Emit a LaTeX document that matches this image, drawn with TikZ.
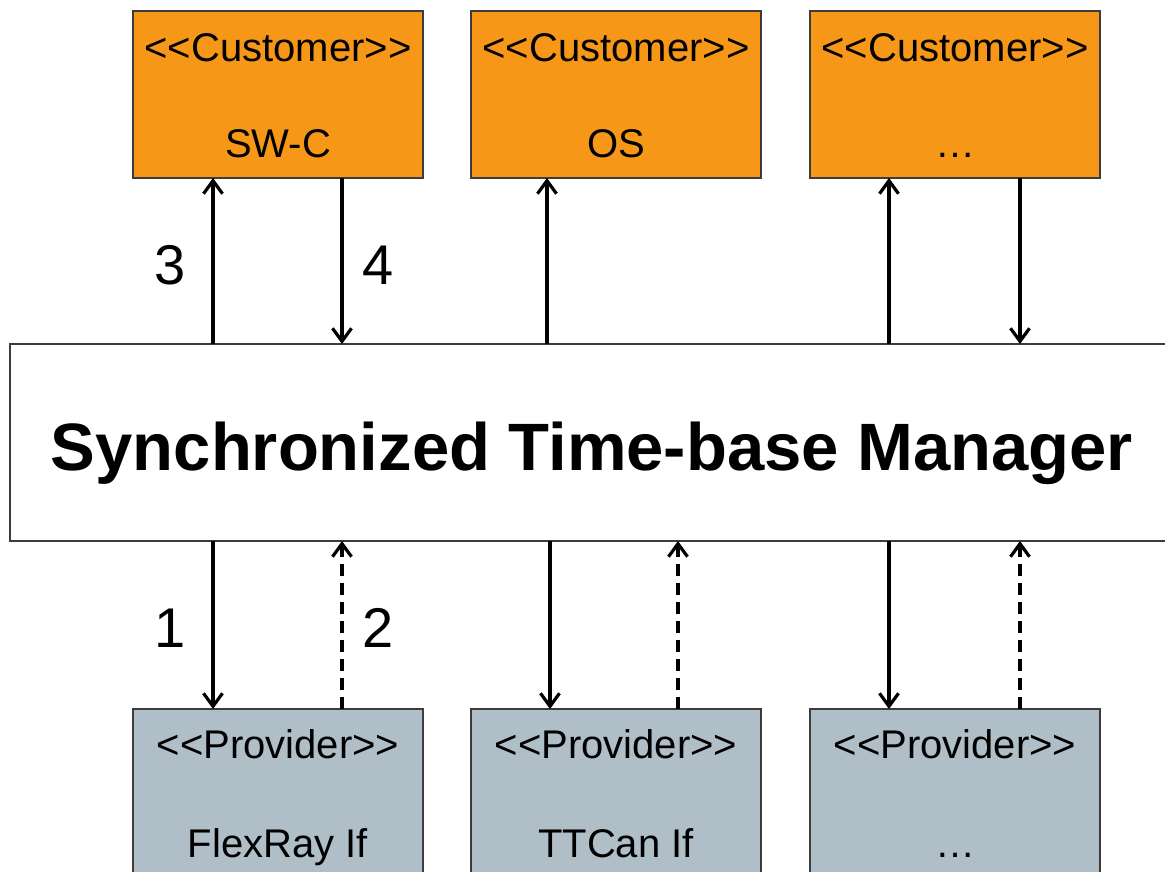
\documentclass[tikz,border=0pt]{standalone}
\usepackage{fontspec}
\setmainfont{Liberation Sans}
\usetikzlibrary{arrows.meta}
\definecolor{custorange}{RGB}{247,151,24}
\definecolor{provgrey}{RGB}{175,190,199}
\definecolor{edgegrey}{RGB}{60,60,60}
\newcommand{\stereo}[1]{{<}{<}#1{>}{>}}
\begin{document}
\begin{tikzpicture}[x=1pt,y=-1pt,
  box/.style={draw=edgegrey,line width=1.3pt,minimum width=290pt,inner sep=0pt,outer sep=0pt},
  customer/.style={box,fill=custorange,minimum height=167pt},
  provider/.style={box,fill=provgrey,minimum height=180pt},
  boxtext/.style={font=\fontsize{40}{48}\selectfont,anchor=base,inner sep=0pt},
  numtext/.style={font=\fontsize{56}{64}\selectfont,anchor=base,inner sep=0pt},
  flow/.style={line width=3.6pt,-{Straight Barb[length=13pt,width=19pt,line width=3.2pt]}},
  reply/.style={flow,dash pattern=on 12pt off 7pt}]
\clip (0,0) rectangle (1165,872);
\fill[white] (0,0) rectangle (1165,872);

% manager block (runs off the right edge)
\node[draw=edgegrey,line width=1.3pt,fill=white,inner sep=0pt,outer sep=0pt,
      minimum width=1175pt,minimum height=197pt,anchor=north west] (mgr) at (10,344) {};
\node[font=\bfseries\fontsize{67}{80}\selectfont,anchor=base,inner sep=0pt] (title)
  at (592,470) {Synchronized Time-base Manager};

% customers
\node[customer] (c1) at (278,94.5) {};
\node[customer] (c2) at (616,94.5) {};
\node[customer] (c3) at (955,94.5) {};
\node[boxtext] (c1s) at (278,62) {\stereo{Customer}};
\node[boxtext] (c2s) at (616,62) {\stereo{Customer}};
\node[boxtext] (c3s) at (955,62) {\stereo{Customer}};
\node[boxtext] (c1n) at (278,158) {SW-C};
\node[boxtext] (c2n) at (616,158) {OS};
\node[boxtext] (c3n) at (955,158) {…};

% providers
\node[provider] (p1) at (278,799) {};
\node[provider] (p2) at (616,799) {};
\node[provider] (p3) at (955,799) {};
\node[boxtext] (p1s) at (278,758) {\stereo{Provider}};
\node[boxtext] (p2s) at (616,758) {\stereo{Provider}};
\node[boxtext] (p3s) at (955,758) {\stereo{Provider}};
\node[boxtext] (p1n) at (278,857) {FlexRay If};
\node[boxtext] (p2n) at (616,857) {TTCan If};
\node[boxtext] (p3n) at (955,857) {…};

% connector columns
\coordinate (xa) at (213,0);
\coordinate (xb) at (342,0);
\coordinate (xc) at (547,0);
\coordinate (xd) at (550,0);
\coordinate (xe) at (678,0);
\coordinate (xf) at (889,0);
\coordinate (xg) at (1020,0);

% upper connectors
\draw[flow] (mgr.north -| xa) -- (c1.south -| xa);
\draw[flow] (c1.south -| xb) -- (mgr.north -| xb);
\draw[flow] (mgr.north -| xc) -- (c2.south -| xc);
\draw[flow] (mgr.north -| xf) -- (c3.south -| xf);
\draw[flow] (c3.south -| xg) -- (mgr.north -| xg);

% lower connectors
\draw[flow] (mgr.south -| xa) -- (p1.north -| xa);
\draw[reply] (p1.north -| xb) -- (mgr.south -| xb);
\draw[flow] (mgr.south -| xd) -- (p2.north -| xd);
\draw[reply] (p2.north -| xe) -- (mgr.south -| xe);
\draw[flow] (mgr.south -| xf) -- (p3.north -| xf);
\draw[reply] (p3.north -| xg) -- (mgr.south -| xg);

% step numbers
\node[numtext] (n3) at (170,284) {3};
\node[numtext] (n4) at (378,284) {4};
\node[numtext] (n1) at (170,647) {1};
\node[numtext] (n2) at (378,647) {2};
\end{tikzpicture}
\end{document}
